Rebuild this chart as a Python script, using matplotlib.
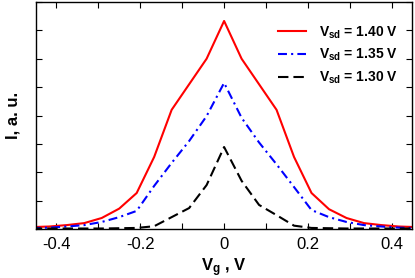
import matplotlib
matplotlib.use("Agg")
import matplotlib.pyplot as plt
import numpy as np
from matplotlib.ticker import MultipleLocator, NullFormatter

plt.rcParams['font.family'] = ['Liberation Sans', 'DejaVu Sans']
plt.rcParams['mathtext.fontset'] = 'custom'
plt.rcParams['mathtext.rm'] = 'Liberation Sans'
plt.rcParams['mathtext.bf'] = 'Liberation Sans:bold'

vg = [-11/24, -10/24, -9/24, -8/24, -7/24, -6/24, -5/24, -4/24, -3/24, -2/24, -1/24, 0,
      1/24, 2/24, 3/24, 4/24, 5/24, 6/24, 7/24, 8/24, 9/24, 10/24, 11/24]
i_140 = [0.07, 0.09, 0.14, 0.21, 0.39, 0.72, 1.27, 2.54, 4.2, 5.1, 6.0, 7.33,
         6.0, 5.1, 4.2, 2.54, 1.27, 0.70, 0.39, 0.21, 0.14, 0.09, 0.07]
i_135 = [0.035, 0.05, 0.09, 0.14, 0.25, 0.42, 0.64, 1.52, 2.33, 3.1, 3.98, 5.15,
         3.92, 3.05, 2.28, 1.48, 0.67, 0.42, 0.25, 0.14, 0.09, 0.05, 0.035]
i_130 = [0.02, 0.02, 0.02, 0.02, 0.02, 0.03, 0.04, 0.1, 0.42, 0.74, 1.55, 2.89,
         1.7, 0.85, 0.49, 0.12, 0.04, 0.03, 0.02, 0.02, 0.02, 0.02, 0.02]
labels = [r'$\mathbf{V_{sd}}$ = 1.40 V', r'$\mathbf{V_{sd}}$ = 1.35 V', r'$\mathbf{V_{sd}}$ = 1.30 V']

fig = plt.figure(figsize=(4.15, 2.78), dpi=100)
ax = fig.add_axes([0.087, 0.176, 0.906, 0.817])

ax.plot(vg, i_140, color='#ff0000', lw=1.5, label=labels[0])
ax.plot(vg, i_135, color='#0000ff', lw=1.5, dashes=(4.3, 2, 1, 2), label=labels[1])
ax.plot(vg, i_130, color='#000000', lw=1.5, dashes=(5, 2.4), label=labels[2])

ax.set_xlim(-0.448, 0.448)
ax.set_ylim(0, 8)
ax.xaxis.set_major_locator(MultipleLocator(0.2))
ax.xaxis.set_minor_locator(MultipleLocator(0.1))
ax.yaxis.set_major_locator(MultipleLocator(1))
ax.yaxis.set_major_formatter(NullFormatter())
ax.set_xticks([-0.4, -0.2, 0, 0.2, 0.4])
ax.set_xticklabels(['-0.4', '-0.2', '0', '0.2', '0.4'])
ax.tick_params(which='both', direction='in', top=True, right=True, length=4, width=0.8, labelsize=12)
ax.tick_params(axis='x', pad=6)
for s in ax.spines.values():
    s.set_linewidth(1.0)

ax.set_ylabel('I, a. u.', fontsize=12, fontweight='bold', labelpad=8)
ax.set_xlabel(r'$\mathbf{V_g}$ , V', fontsize=12, fontweight='bold', labelpad=3)

leg = ax.legend(loc='upper right', frameon=False, prop={'size': 10, 'weight': 'bold'},
                handlelength=2.0, handletextpad=1.0, labelspacing=0.45,
                borderaxespad=0.8, bbox_to_anchor=(1.008, 0.975))

fig.savefig('out.png', dpi=100)
